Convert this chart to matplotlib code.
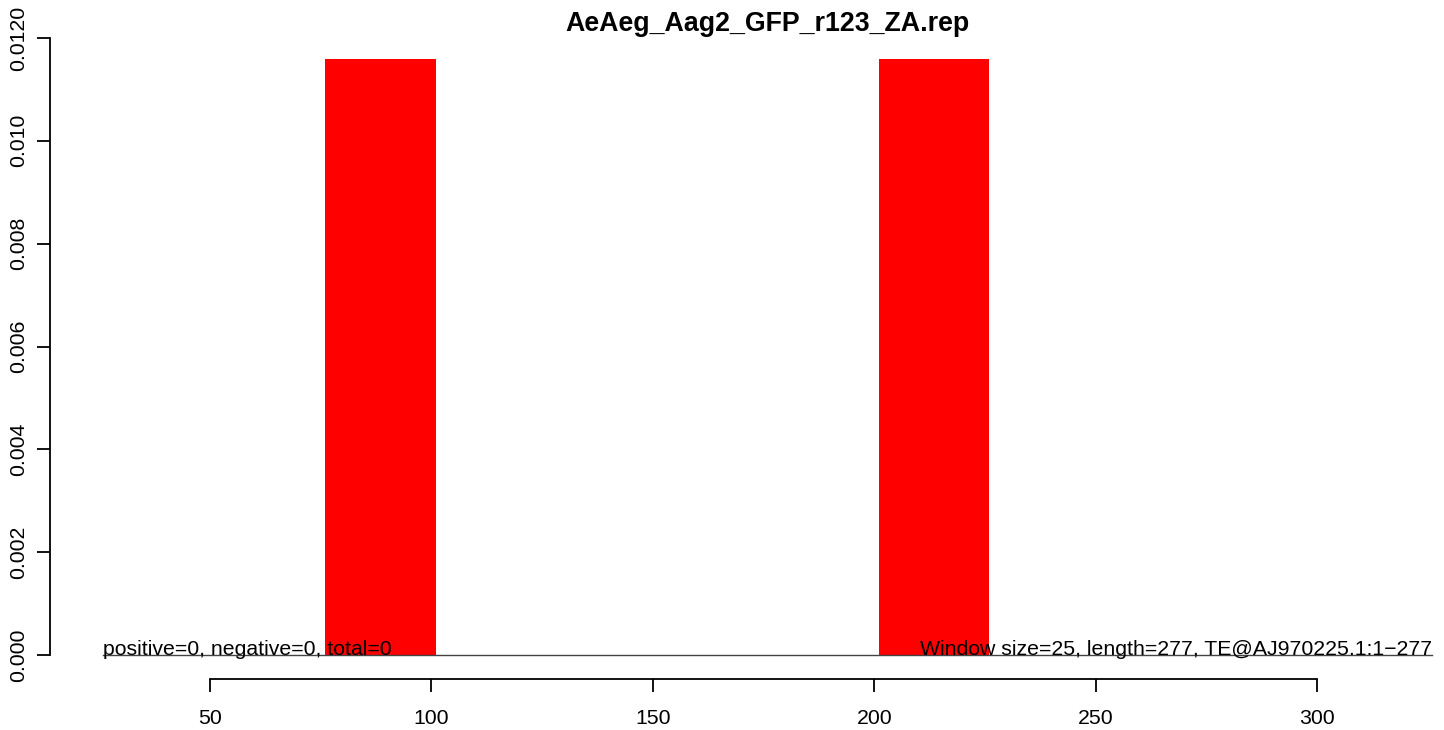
# Coverage plot of small RNA reads along a TE (R-style base graphics look)
import matplotlib
matplotlib.use("Agg")
import matplotlib.pyplot as plt

# Data
win_start = [76, 201]          # window start positions
win_height = [0.0116, 0.0116]  # normalised counts
win_size = 25
title = "AeAeg_Aag2_GFP_r123_ZA.rep"
left_note = "positive=0, negative=0, total=0"
right_note = "Window size=25, length=277, TE@AJ970225.1:1\u2212277"
xticks = [50, 100, 150, 200, 250, 300]
yticks = [0.000, 0.002, 0.004, 0.006, 0.008, 0.010, 0.012]
ytick_labels = ["0.000", "0.002", "0.004", "0.006", "0.008", "0.010", "0.0120"]

plt.rcParams['font.family'] = ['Liberation Sans', 'DejaVu Sans']

dpi = 100
W, H = 1444, 730
fig = plt.figure(figsize=(W / dpi, H / dpi), dpi=dpi)
# plot region in pixels: x 103..1432, y 38..655
ax = fig.add_axes([103 / W, 1 - 655 / H, (1432 - 103) / W, (655 - 38) / H])

ax.bar(win_start, win_height, width=win_size, align='edge', color='#ff0000', linewidth=0)
ax.axhline(0, color='#444444', lw=1.0, clip_on=False, zorder=3)

ax.set_xlim(25.8, 326.0)
ax.set_ylim(0, 0.012)

px = 72 / dpi
fs = 15.3
for s in ['top', 'right']:
    ax.spines[s].set_visible(False)
ax.spines['left'].set_position(('outward', 53 * px))
ax.spines['left'].set_bounds(0, 0.012)
ax.spines['bottom'].set_position(('outward', 24 * px))
ax.spines['bottom'].set_bounds(50, 300)
for s in ['left', 'bottom']:
    ax.spines[s].set_linewidth(1.3)

ax.set_xticks(xticks)
ax.set_xticklabels([str(t) for t in xticks])
ax.set_yticks(yticks)
ax.set_yticklabels(ytick_labels, rotation=90, va='center')
ax.tick_params(axis='both', length=13 * px, width=1.3, labelsize=fs)
ax.tick_params(axis='x', pad=17 * px)
ax.tick_params(axis='y', pad=9 * px)

ax.text(0, 0, left_note, transform=ax.transAxes, ha='left', va='baseline', fontsize=fs, zorder=4)
ax.text(1, 0, right_note, transform=ax.transAxes, ha='right', va='baseline', fontsize=fs, zorder=4)

ax.set_title(title, fontsize=19.3, fontweight='bold', pad=7 * px)

fig.savefig("out.png", dpi=dpi)
